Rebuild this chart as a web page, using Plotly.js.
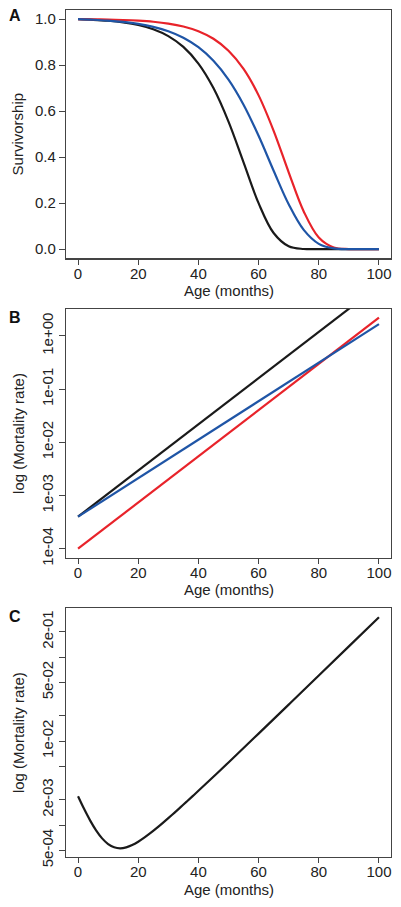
<!DOCTYPE html>
<html>
<head>
<meta charset="utf-8">
<script src="https://cdn.plot.ly/plotly-3.0.1.min.js"></script>
<style>
html,body{margin:0;padding:0;background:#fff;}
#chart{width:401px;height:907px;}
</style>
</head>
<body>
<div id="chart"></div>
<script>
// ---- Panel A: survivorship ----
const ageA = [0,5,10,15,20,25,30,35,40,45,50,55,60,65,70,75,80,85,90,95,100];
const survBlack = [1,0.9974,0.9932,0.9862,0.9748,0.9563,0.9265,0.8795,0.8070,0.7004,0.5545,0.3773,0.1999,0.0702,0.0125,0.0007,0,0,0,0,0];
const survRed   = [1,0.9994,0.9983,0.9965,0.9936,0.9889,0.9811,0.9684,0.9478,0.9148,0.8629,0.7837,0.6687,0.5147,0.3343,0.1641,0.0508,0.0073,0.0003,0,0];
const survBlue  = [1,0.9975,0.9938,0.9881,0.9796,0.9668,0.9477,0.9195,0.8783,0.8193,0.7373,0.6282,0.4928,0.3410,0.1951,0.0836,0.0231,0.0033,0.0002,0,0];

// ---- Panel B: log mortality (straight lines on log scale) ----
const ageB = [0,100];
const mortBlack = [4e-4, 8.81];
const mortRed   = [1e-4, 2.203];
const mortBlue  = [4e-4, 1.664];

// ---- Panel C: bathtub mortality ----
const ageC = [0,2,4,6,8,10,12,14,16,18,20,22,24,26,28,30,32,34,36,38,40,50,60,70,80,90,100];
const mortC = [2.2e-3,1.558e-3,1.1364e-3,8.640e-4,6.934e-4,5.932e-4,5.426e-4,5.281e-4,5.412e-4,5.767e-4,6.319e-4,7.058e-4,7.986e-4,9.115e-4,1.0467e-3,1.2073e-3,1.3969e-3,1.6203e-3,1.8829e-3,2.1915e-3,2.5539e-3,5.560e-3,1.2251e-2,2.7143e-2,6.0285e-2,0.13404,0.29820];

// tick labels
const ticksA = [0,0.2,0.4,0.6,0.8,1.0];
const ticksAge = [0,20,40,60,80,100];
const tickValsB = [1e-4,1e-3,1e-2,1e-1,1];
const tickTextB = ['1e-04','1e-03','1e-02','1e-01','1e+00'];
const tickValsC = [5e-4,1e-3,2e-3,5e-3,1e-2,2e-2,5e-2,1e-1,2e-1];
const tickTextC = ['5e-04','','2e-03','','1e-02','','5e-02','','2e-01'];
const xTitle = 'Age (months)';

const BLACK = '#1a1a1a', RED = '#e8232a', BLUE = '#1f55a6';
const LW = 2.2;
const FONT = 'Liberation Sans, Arial, Helvetica, sans-serif';
const FS = 15;

function ln(x, y, color, xa, ya, shape){
  return {x:x, y:y, type:'scatter', mode:'lines', xaxis:xa, yaxis:ya,
    line:{color:color, width:LW, shape:shape||'linear'}, hoverinfo:'skip', showlegend:false};
}

const data = [
  ln(ageA, survBlack, BLACK, 'x', 'y', 'spline'),
  ln(ageA, survRed, RED, 'x', 'y', 'spline'),
  ln(ageA, survBlue, BLUE, 'x', 'y', 'spline'),
  ln(ageB, mortBlack, BLACK, 'x2', 'y2'),
  ln(ageB, mortRed, RED, 'x2', 'y2'),
  ln(ageB, mortBlue, BLUE, 'x2', 'y2'),
  ln(ageC, mortC, BLACK, 'x3', 'y3', 'spline')
];

const AXC = '#444';
function xax(anchor){
  return {anchor:anchor, domain:[0,1], range:[-4,104], tickvals:ticksAge, ticks:'outside', ticklen:5,
    ticklabelstandoff:-4,
    tickcolor:AXC, tickwidth:1, showline:true, mirror:true, linecolor:AXC, linewidth:1.2,
    showgrid:false, zeroline:false, tickfont:{family:FONT, size:FS, color:'#222'}};
}
function yax(anchor, domain){
  return {anchor:anchor, domain:domain, ticks:'outside', ticklen:6, tickcolor:AXC, tickwidth:1,
    showline:true, mirror:true, linecolor:AXC, linewidth:1.2, showgrid:false, zeroline:false,
    tickfont:{family:FONT, size:FS, color:'#222'}};
}

const ya = yax('x', [0.7068,1.0]);
ya.range = [-0.04,1.04]; ya.tickvals = ticksA; ya.tickformat = '.1f';
ya.title = {text:'Survivorship', font:{family:FONT, size:FS, color:'#222'}, standoff:7};

const yb = yax('x2', [0.3530,0.6470]);
yb.type = 'log'; yb.range = [-4.175,0.507]; yb.tickvals = tickValsB; yb.ticktext = tickTextB; yb.tickangle = -90;
yb.title = {text:'log (Mortality rate)', font:{family:FONT, size:FS, color:'#222'}, standoff:10};

const yc = yax('x3', [0,0.2936]);
yc.type = 'log'; yc.range = [-3.381,-0.42]; yc.tickvals = tickValsC; yc.ticktext = tickTextC; yc.tickangle = -90;
yc.title = {text:'log (Mortality rate)', font:{family:FONT, size:FS, color:'#222'}, standoff:10};

function xLabel(yPaper){
  return {text:xTitle, xref:'paper', yref:'paper', x:0.5, y:yPaper, xanchor:'center', yanchor:'middle',
    showarrow:false, font:{family:FONT, size:FS, color:'#222'}};
}
function letter(t, yPaper){
  return {text:'<b>'+t+'</b>', xref:'paper', yref:'paper', x:-0.157, y:yPaper, xanchor:'center', yanchor:'middle',
    showarrow:false, font:{family:FONT, size:16, color:'#111'}};
}

const layout = {
  width:401, height:907,
  margin:{l:66, r:10, t:10, b:50},
  paper_bgcolor:'#fff', plot_bgcolor:'#fff',
  font:{family:FONT, color:'#222'},
  showlegend:false,
  xaxis: xax('y'), yaxis: ya,
  xaxis2: xax('y2'), yaxis2: yb,
  xaxis3: xax('y3'), yaxis3: yc,
  annotations:[
    letter('A', 0.993), letter('B', 0.637), letter('C', 0.2845),
    xLabel(0.6688), xLabel(0.3158), xLabel(-0.0380)
  ]
};

Plotly.newPlot('chart', data, layout, {staticPlot:true, displayModeBar:false});
</script>
</body>
</html>
